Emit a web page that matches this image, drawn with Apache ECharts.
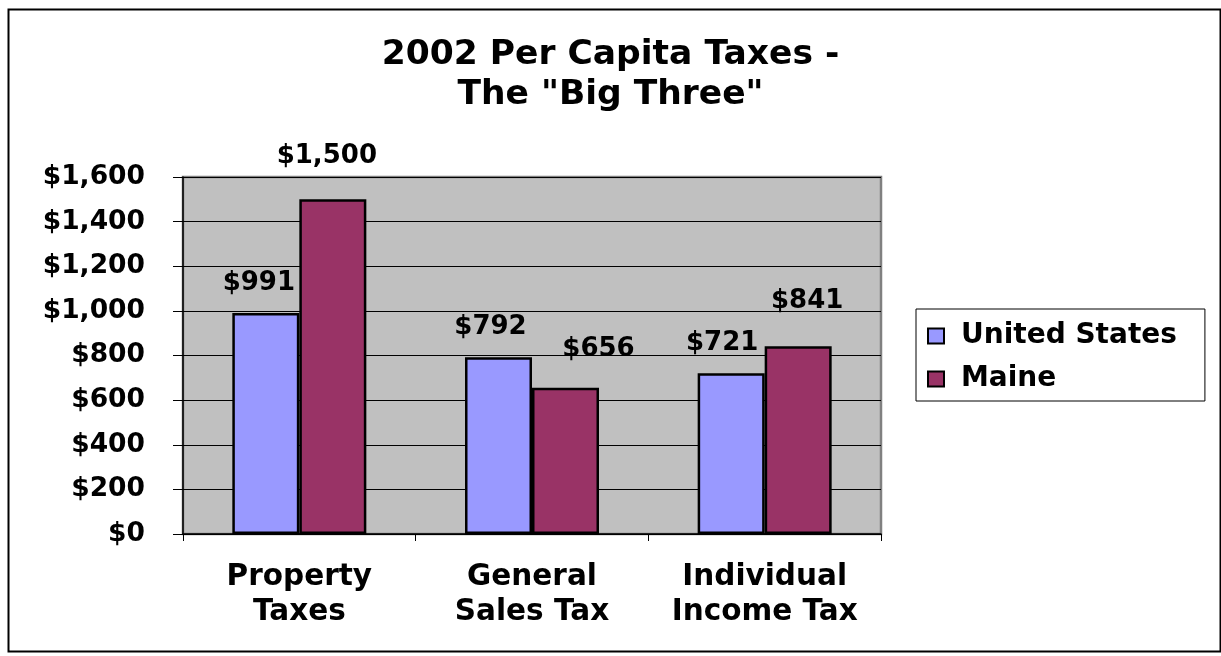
<!DOCTYPE html>
<html>
<head>
<meta charset="utf-8">
<title>2002 Per Capita Taxes</title>
<script src="https://cdn.jsdelivr.net/npm/echarts@6/dist/echarts.min.js"></script>
<style>
  html, body { margin: 0; padding: 0; background: #fff; }
  #chart { width: 1221px; height: 656px; }
</style>
</head>
<body>
<div id="chart"></div>
<script>
// Per capita tax data, 2002
const categories = ['Property\nTaxes', 'General\nSales Tax', 'Individual\nIncome Tax'];
const seriesNames = ['United States', 'Maine'];
const unitedStates = [991, 792, 721];
const maine = [1500, 656, 841];
const yTicks = { min: 0, max: 1600, step: 200 };

// Hand-placed label nudges [dx, dy] per bar, in pixels
const labelNudge = {
  'United States': [[-7, 0], [-8, 0], [-9, 0]],
  'Maine': [[-6, -13], [33, -8], [9, -15]]
};

const FONT = '"DejaVu Sans", "Liberation Sans", Arial, sans-serif';
const money = v => '$' + Number(v).toLocaleString('en-US');

function barSeries(name, values, color) {
  return {
    name: name,
    type: 'bar',
    barWidth: 67,
    barGap: '0%',
    itemStyle: { color: color, borderColor: '#000', borderWidth: 2.5 },
    data: values.map((v, i) => ({
      value: v,
      label: { offset: labelNudge[name][i] }
    })),
    label: {
      show: true,
      position: 'top',
      distance: 17,
      formatter: p => money(p.value),
      fontFamily: FONT,
      fontWeight: 'bold',
      fontSize: 26,
      lineHeight: 26,
      color: '#000'
    }
  };
}

const chart = echarts.init(document.getElementById('chart'), null, { renderer: 'canvas' });
chart.setOption({
  animation: false,
  backgroundColor: '#fff',
  title: {
    text: '2002 Per Capita Taxes -\nThe "Big Three"',
    left: 'center',
    top: 30,
    textStyle: {
      fontFamily: FONT,
      fontWeight: 'bold',
      fontSize: 34.5,
      lineHeight: 40,
      color: '#000'
    }
  },
  legend: {
    orient: 'vertical',
    left: 916,
    top: 309,
    padding: [12, 28, 7, 11],
    itemGap: 13,
    itemWidth: 16,
    itemHeight: 15,
    borderColor: '#000',
    borderWidth: 1,
    backgroundColor: '#fff',
    icon: 'rect',
    itemStyle: { borderColor: '#000', borderWidth: 2 },
    textStyle: {
      fontFamily: FONT,
      fontWeight: 'bold',
      fontSize: 28,
      lineHeight: 30,
      color: '#000',
      padding: [0, 0, 0, 12]
    },
    data: seriesNames
  },
  grid: {
    left: 183,
    top: 177,
    right: 340,
    bottom: 122,
    show: true,
    backgroundColor: '#C0C0C0',
    borderColor: '#808080',
    borderWidth: 2.5
  },
  xAxis: {
    type: 'category',
    data: categories,
    axisLine: { lineStyle: { color: '#000', width: 1.5 } },
    axisTick: { show: true, alignWithLabel: false, length: 7, lineStyle: { color: '#000' } },
    axisLabel: {
      fontFamily: FONT,
      fontWeight: 'bold',
      fontSize: 29.5,
      lineHeight: 35,
      margin: 26,
      color: '#000',
      interval: 0
    }
  },
  yAxis: {
    type: 'value',
    min: yTicks.min,
    max: yTicks.max,
    interval: yTicks.step,
    axisLine: { show: true, lineStyle: { color: '#000', width: 1.5 } },
    axisTick: { show: true, length: 10, lineStyle: { color: '#000' } },
    splitLine: { show: true, lineStyle: { color: '#000', width: 1 } },
    axisLabel: {
      formatter: v => money(v),
      fontFamily: FONT,
      fontWeight: 'bold',
      fontSize: 26.5,
      margin: 38,
      color: '#000'
    }
  },
  series: [
    barSeries(seriesNames[0], unitedStates, '#9999FF'),
    barSeries(seriesNames[1], maine, '#993366')
  ],
  graphic: [{
    type: 'rect',
    left: 6,
    top: 7,
    shape: { width: 1212, height: 642 },
    style: { fill: 'none', stroke: '#000', lineWidth: 2 },
    silent: true,
    z: 100
  }]
});
</script>
</body>
</html>
